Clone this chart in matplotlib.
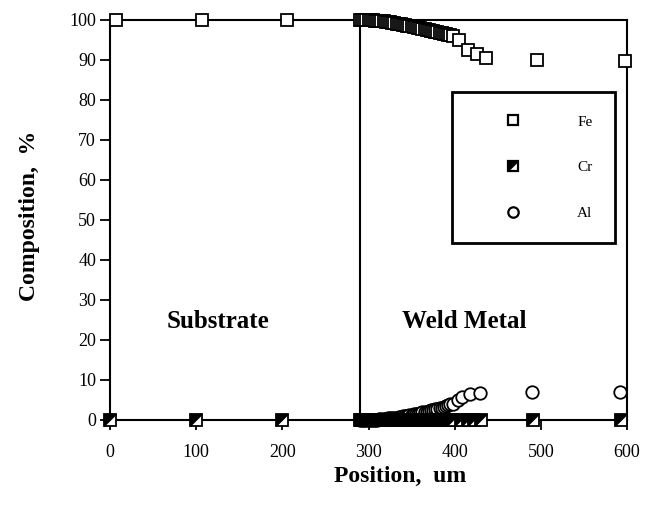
import numpy as np
import matplotlib
matplotlib.use("Agg")
import matplotlib.pyplot as plt
from matplotlib.lines import Line2D
from matplotlib.path import Path

plt.rcParams["font.family"] = ["Liberation Serif", "DejaVu Serif"]

# substrate points
sub_fe_x = [7, 107, 205]
sub_fe = [100, 100, 100]
sub_cr_x = [0, 100, 200]
sub_cr = [0, 0, 0]

# weld metal: dense scan near the fusion line, then sparse points
weld_x = [290, 292.5, 295, 297.5, 300, 302.5, 305, 307.5, 310, 312.5, 315, 317.5, 320,
          322.5, 325, 327.5, 330, 332.5, 335, 337.5, 340, 342.5, 345, 347.5, 350,
          352.5, 355, 357.5, 360, 362.5, 365, 367.5, 370, 372.5, 375, 377.5, 380,
          382.5, 385, 387.5, 390, 392.5, 395, 397.5]
weld_fe = [100, 100, 100, 100, 99.9, 99.9, 99.9, 99.8, 99.8, 99.8, 99.7, 99.7, 99.6,
           99.5, 99.4, 99.3, 99.2, 99.1, 99.0, 98.9, 98.8, 98.7, 98.6, 98.5, 98.4,
           98.3, 98.2, 98.0, 97.9, 97.8, 97.7, 97.5, 97.4, 97.3, 97.2, 97.0, 96.9,
           96.8, 96.7, 96.5, 96.4, 96.3, 96.2, 96.0]
weld_al = [0, 0, 0, 0, 0, 0, 0.1, 0.1, 0.1, 0.2, 0.2, 0.3, 0.3,
           0.4, 0.4, 0.5, 0.6, 0.6, 0.7, 0.8, 0.9, 1.0, 1.1, 1.2, 1.3,
           1.4, 1.5, 1.6, 1.8, 1.9, 2.0, 2.1, 2.3, 2.4, 2.5, 2.7, 2.8,
           3.0, 3.1, 3.3, 3.5, 3.7, 3.9, 4.1]
weld_cr = [0] * len(weld_x)

fe_x = [405, 415, 426, 436, 495, 598]
fe = [95.0, 92.5, 91.5, 90.5, 90.0, 89.8]
cr_x = [407, 415, 423, 431, 491, 593]
cr = [0, 0, 0, 0, 0, 0]
al_x = [404, 409, 418, 429, 490, 592]
al = [5.0, 5.75, 6.4, 6.7, 7.0, 7.0]

weld_boundary = 290

# half-filled square for Cr: black upper-left triangle
tri = Path([(-1, -1), (-1, 1), (1, 1), (-1, -1)],
           [Path.MOVETO, Path.LINETO, Path.LINETO, Path.CLOSEPOLY])

ms = 9
mew = 1.3
sq_kw = dict(marker="s", ms=ms, mfc="white", mec="black", mew=mew, ls="none", clip_on=False)
tri_kw = dict(marker=tri, ms=ms - 1, mfc="black", mec="black", mew=0.5, ls="none", clip_on=False)
ci_kw = dict(marker="o", ms=ms, mfc="white", mec="black", mew=mew, ls="none", clip_on=False)

fig = plt.figure(figsize=(6.51, 5.13), dpi=100)
ax = fig.add_axes([110 / 651, 93 / 513, 517 / 651, 400 / 513])

ax.axvline(weld_boundary, color="black", lw=1.5, zorder=1)

# Al first so it sits under the Cr squares
ax.plot(weld_x, weld_al, zorder=3, **ci_kw)
ax.plot(al_x, al, zorder=3, **ci_kw)

ax.plot(sub_fe_x, sub_fe, zorder=3, **sq_kw)
ax.plot(weld_x, weld_fe, zorder=3, **sq_kw)
ax.plot(fe_x, fe, zorder=3, **sq_kw)

for xs, ys in [(sub_cr_x, sub_cr), (weld_x, weld_cr), (cr_x, cr)]:
    ax.plot(xs, ys, zorder=4, **sq_kw)
    ax.plot(xs, ys, zorder=5, **tri_kw)

ax.set_xlim(0, 600)
ax.set_ylim(0, 100)
ax.set_xticks(range(0, 601, 100))
ax.set_yticks(range(0, 101, 10))
ax.tick_params(direction="out", length=7, width=1.3, labelsize=13)
ax.tick_params(axis="x", pad=10)
ax.tick_params(axis="y", pad=3)
for s in ax.spines.values():
    s.set_linewidth(1.5)

ax.set_xlabel("Position,  um", fontsize=17, fontweight="bold")
ax.xaxis.set_label_coords(0.561, -0.115)
ax.set_ylabel("Composition,  %", fontsize=17, fontweight="bold")
ax.yaxis.set_label_coords(-0.135, 0.51)

ax.text(125, 24.5, "Substrate", fontsize=18, fontweight="bold", ha="center", va="center")
ax.text(411, 24.5, "Weld Metal", fontsize=18, fontweight="bold", ha="center", va="center")

h_fe = Line2D([], [], marker="s", ms=7.5, mfc="white", mec="black", mew=1.6, ls="none")
h_cr_sq = Line2D([], [], marker="s", ms=7.5, mfc="white", mec="black", mew=1.6, ls="none")
h_cr_tri = Line2D([], [], marker=tri, ms=6.5, mfc="black", mec="black", mew=0.5, ls="none")
h_al = Line2D([], [], marker="o", ms=7.5, mfc="white", mec="black", mew=1.6, ls="none")
leg = ax.legend([h_fe, (h_cr_sq, h_cr_tri), h_al], ["Fe", "Cr", "Al"],
                loc="upper left", bbox_to_anchor=(0.6615, 0.82), borderaxespad=0,
                fontsize=11, frameon=True, fancybox=False, framealpha=1,
                edgecolor="black", borderpad=1.5, labelspacing=2.1,
                handlelength=5, handletextpad=1.7)
leg.get_frame().set_linewidth(2)

fig.savefig("out.png", dpi=100)
